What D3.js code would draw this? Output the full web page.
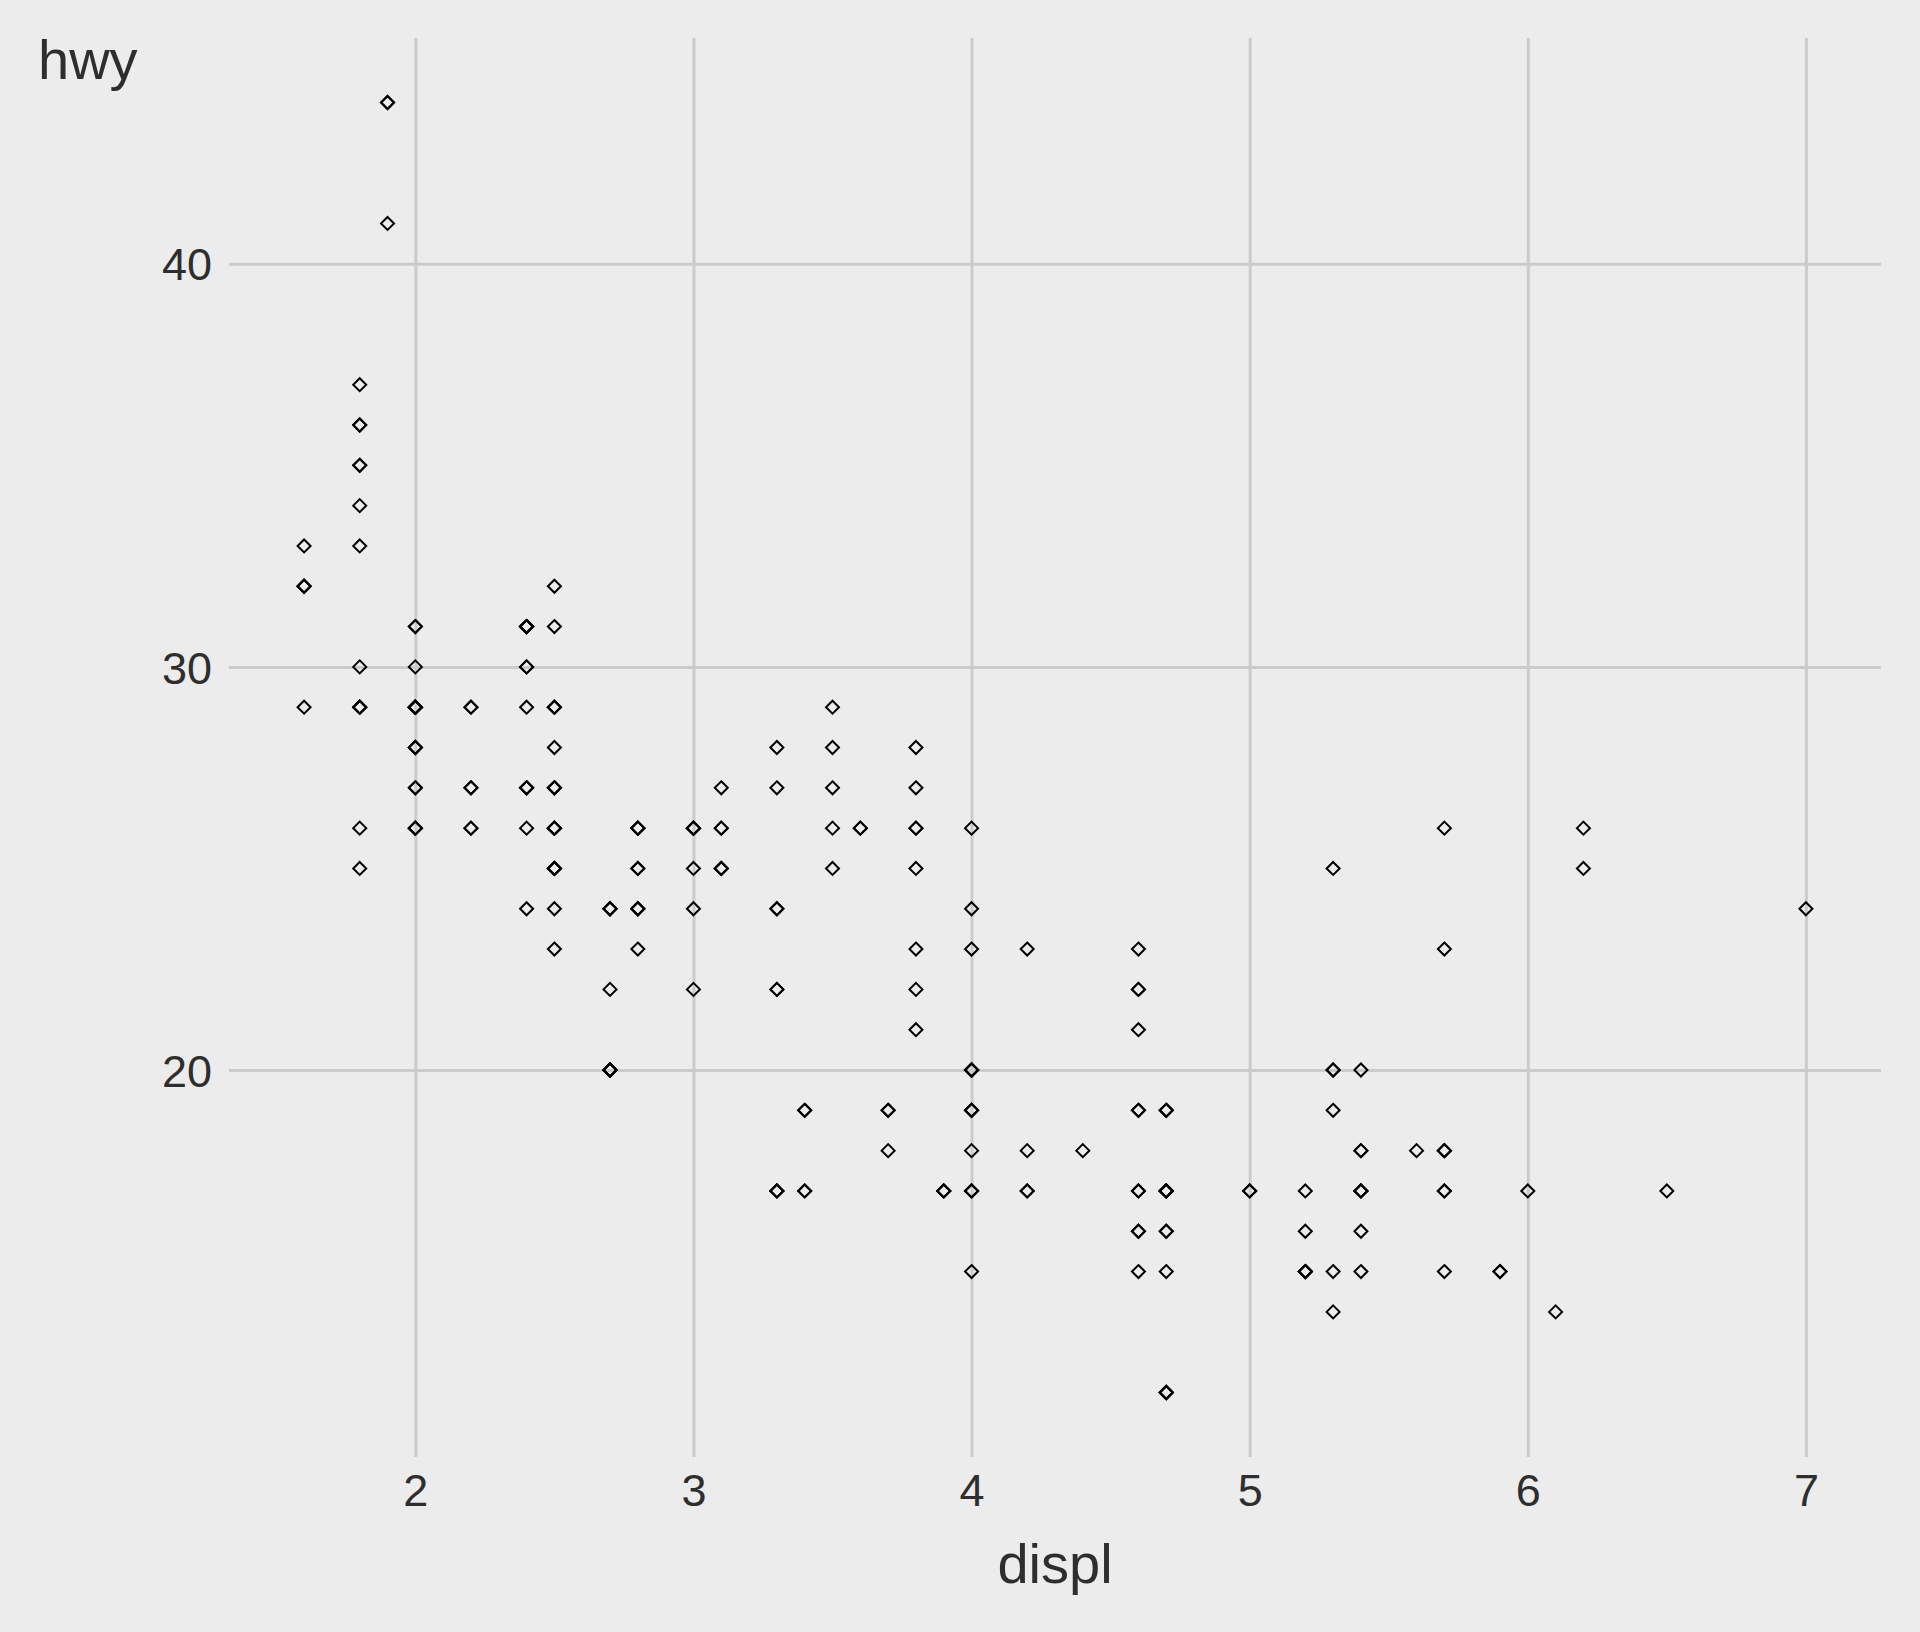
<!DOCTYPE html>
<html>
<head>
<meta charset="utf-8">
<script src="https://cdn.jsdelivr.net/npm/d3@7"></script>
<style>
  html, body { margin: 0; padding: 0; background: #ececec; }
  svg { display: block; font-family: "Liberation Sans", Arial, Helvetica, sans-serif; }
</style>
</head>
<body>
<div id="container"></div>
<script>
// mpg: engine displacement vs highway mileage
const displ = [
  1.8, 1.8, 2.0, 2.0, 2.8, 2.8, 3.1, 1.8, 1.8, 2.0, 2.0, 2.8, 2.8, 3.1, 3.1, 2.8, 3.1, 4.2,
  5.3, 5.3, 5.3, 5.7, 6.0, 5.7, 5.7, 6.2, 6.2, 7.0, 5.3, 5.3, 5.7, 6.5,
  2.4, 2.4, 3.1, 3.5, 3.6,
  2.4, 3.0, 3.3, 3.3, 3.3, 3.3, 3.3, 3.8, 3.8, 3.8, 4.0,
  3.7, 3.7, 3.9, 3.9, 4.7, 4.7, 4.7, 5.2, 5.2,
  3.9, 4.7, 4.7, 4.7, 5.2, 5.2, 5.7, 5.9,
  4.7, 4.7, 4.7, 4.7, 4.7, 5.2, 5.2, 5.7, 5.9,
  4.6, 5.4, 5.4, 4.0, 4.0, 4.0, 4.0, 4.6, 5.0, 4.2, 4.2, 4.6, 4.6, 4.6, 5.4, 5.4,
  3.8, 3.8, 4.0, 4.0, 4.6, 4.6, 4.6, 4.6, 5.4,
  1.6, 1.6, 1.6, 1.6, 1.6, 1.8, 1.8, 1.8, 2.0,
  2.4, 2.4, 2.4, 2.4, 2.5, 2.5, 3.3, 2.0, 2.0, 2.0, 2.0, 2.7, 2.7, 2.7,
  3.0, 3.7, 4.0, 4.7, 4.7, 4.7, 5.7, 6.1,
  4.0, 4.2, 4.4, 4.6, 5.4, 5.4, 5.4, 4.0, 4.0, 4.6, 5.0,
  2.4, 2.4, 2.5, 2.5, 3.5, 3.5, 3.0, 3.0, 3.5, 3.3, 3.3, 4.0, 5.6,
  3.1, 3.8, 3.8, 3.8, 5.3,
  2.5, 2.5, 2.5, 2.5, 2.5, 2.5, 2.2, 2.2, 2.5, 2.5, 2.5, 2.5, 2.5, 2.5,
  2.7, 2.7, 3.4, 3.4, 4.0, 4.7, 2.2, 2.2, 2.4, 2.4, 3.0, 3.0, 3.5,
  2.2, 2.2, 2.4, 2.4, 3.0, 3.0, 3.3, 1.8, 1.8, 1.8, 1.8, 1.8, 4.7, 5.7,
  2.7, 2.7, 2.7, 3.4, 3.4, 4.0, 4.0,
  2.0, 2.0, 2.0, 2.0, 2.8, 1.9, 2.0, 2.0, 2.0, 2.0, 2.5, 2.5, 2.8, 2.8,
  1.9, 1.9, 2.0, 2.0, 2.5, 2.5, 1.8, 1.8, 2.0, 2.0, 2.8, 2.8, 3.6
];
const hwy = [
  29, 29, 31, 30, 26, 26, 27, 26, 25, 28, 27, 25, 25, 25, 25, 24, 25, 23,
  20, 15, 20, 17, 17, 26, 23, 26, 25, 24, 19, 14, 15, 17,
  27, 30, 26, 29, 26,
  24, 24, 22, 22, 24, 24, 17, 22, 21, 23, 23,
  19, 18, 17, 17, 19, 19, 12, 17, 15,
  17, 17, 12, 17, 16, 15, 18, 15,
  16, 16, 12, 17, 17, 15, 15, 17, 15,
  17, 17, 18, 17, 19, 17, 19, 19, 17, 17, 17, 16, 16, 17, 15, 17,
  26, 25, 26, 24, 21, 22, 23, 22, 20,
  33, 32, 32, 29, 32, 34, 36, 36, 29,
  26, 27, 30, 31, 26, 26, 28, 26, 29, 28, 27, 24, 24, 24,
  22, 19, 20, 17, 12, 19, 18, 14,
  15, 18, 18, 15, 17, 16, 18, 17, 19, 19, 17,
  29, 27, 31, 32, 27, 26, 26, 25, 25, 17, 17, 20, 18,
  26, 26, 27, 28, 25,
  25, 24, 27, 25, 26, 23, 26, 26, 26, 26, 27, 25, 25, 27,
  20, 20, 19, 17, 20, 17, 29, 27, 31, 31, 26, 26, 28,
  27, 29, 31, 31, 26, 26, 27, 30, 33, 35, 37, 35, 15, 18,
  20, 20, 22, 17, 19, 18, 20,
  29, 26, 29, 29, 24, 44, 29, 26, 29, 29, 29, 29, 23, 24,
  44, 41, 29, 26, 28, 29, 29, 29, 31, 28, 26, 26, 26
];
const xTicks = [2, 3, 4, 5, 6, 7];
const yTicks = [20, 30, 40];

const WIDTH = 1920;
const HEIGHT = 1632;
const PANEL = { LEFT: 229, RIGHT: 1881, TOP: 38, BOTTOM: 1457 };
const GRID = '#cbcbcb';
const INK = '#2e2e2e';

const points = displ.map((d, i) => ({ displ: d, hwy: hwy[i] }));

// ggplot-style 5% expansion on both scales
const xExt = d3.extent(displ);
const yExt = d3.extent(hwy);
const xPad = (xExt[1] - xExt[0]) * 0.05;
const yPad = (yExt[1] - yExt[0]) * 0.05;

const xScale = d3.scaleLinear()
    .domain([xExt[0] - xPad, xExt[1] + xPad])
    .range([PANEL.LEFT, PANEL.RIGHT]);

const yScale = d3.scaleLinear()
    .domain([yExt[0] - yPad, yExt[1] + yPad])
    .range([PANEL.BOTTOM, PANEL.TOP]);

const svg = d3.select('#container')
    .append('svg')
    .attr('width', WIDTH)
    .attr('height', HEIGHT);

svg.append('rect')
    .attr('width', WIDTH)
    .attr('height', HEIGHT)
    .attr('fill', '#ececec');

// y axis + horizontal grid
const yAxis = svg.append('g')
    .attr('transform', `translate(${PANEL.LEFT},0)`)
    .call(d3.axisLeft(yScale)
        .tickValues(yTicks)
        .tickFormat(d3.format('d'))
        .tickSize(-(PANEL.RIGHT - PANEL.LEFT))
        .tickPadding(17));
yAxis.select('.domain').remove();
yAxis.selectAll('line').attr('stroke', GRID).attr('stroke-width', 3);
yAxis.selectAll('text')
    .attr('fill', INK)
    .attr('font-size', 45)
    .attr('dy', '0.36em');

// x axis + vertical grid
const xAxis = svg.append('g')
    .attr('transform', `translate(0,${PANEL.BOTTOM})`)
    .call(d3.axisBottom(xScale)
        .tickValues(xTicks)
        .tickFormat(d3.format('d'))
        .tickSize(-(PANEL.BOTTOM - PANEL.TOP)));
xAxis.select('.domain').remove();
xAxis.selectAll('line').attr('stroke', GRID).attr('stroke-width', 3);
xAxis.selectAll('text')
    .attr('fill', INK)
    .attr('font-size', 45)
    .attr('dy', null)
    .attr('y', 49);

// points: open diamonds
const diamond = 'M0,-6.5L6.5,0L0,6.5L-6.5,0Z';
svg.append('g')
    .selectAll('path')
    .data(points)
    .enter()
    .append('path')
      .attr('d', diamond)
      .attr('transform', d => `translate(${xScale(d.displ)},${yScale(d.hwy)})`)
      .attr('fill', 'none')
      .attr('stroke', '#000')
      .attr('stroke-width', 2);

// axis titles
svg.append('text')
    .attr('x', (PANEL.LEFT + PANEL.RIGHT) / 2)
    .attr('y', 1583)
    .attr('text-anchor', 'middle')
    .attr('font-size', 56)
    .attr('fill', INK)
    .text('displ');

svg.append('text')
    .attr('x', 38)
    .attr('y', 79)
    .attr('font-size', 56)
    .attr('fill', INK)
    .text('hwy');
</script>
</body>
</html>
